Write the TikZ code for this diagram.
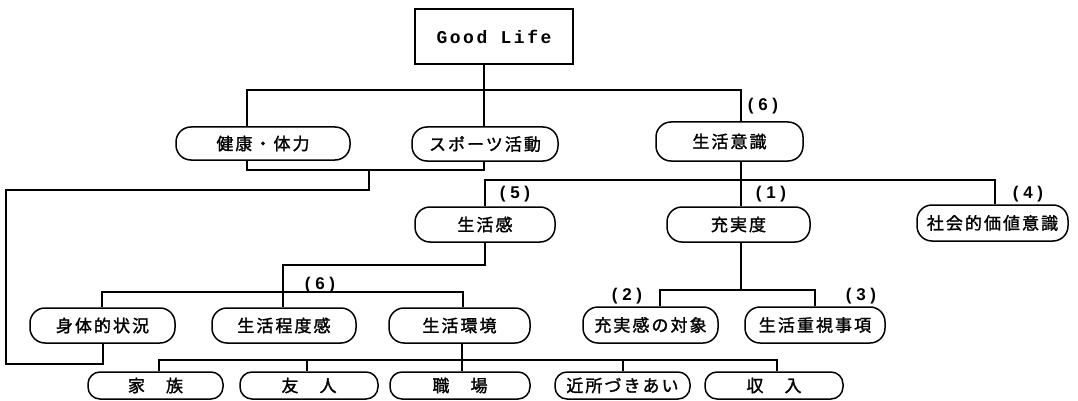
\documentclass[tikz,border=0pt]{standalone}
\usepackage{fontspec}
\newfontfamily\jp{Noto Sans CJK JP}[LetterSpace=12,FakeBold=1.5]
\newfontfamily\glfont{Liberation Mono}[LetterSpace=14]
\newfontfamily\numfont{Liberation Sans}
\tikzset{
  rbox/.style={draw, line width=1.5pt, rounded corners=15pt, inner sep=0pt, font=\jp\fontsize{17}{17}\selectfont},
  lowbox/.style={rbox, rounded corners=12pt},
  sqbox/.style={draw, line width=1.5pt, inner sep=0pt, font=\glfont\bfseries\fontsize{18}{18}\selectfont},
  conn/.style={line width=1.5pt},
  lbl/.style={inner sep=0pt, font=\numfont\bfseries\fontsize{17}{17}\selectfont}
}
\begin{document}
\begin{tikzpicture}[x=1pt,y=-1pt]
\useasboundingbox[fill=white] (0,0) rectangle (1078,401);
% nodes
\node[sqbox, minimum width=158pt, minimum height=55pt] (gl) at (494,36.5) {Good Life};
\node[rbox, minimum width=174pt, minimum height=33pt] (kenko) at (263,143.5) {健康・体力};
\node[rbox, minimum width=146pt, minimum height=34pt] (sports) at (485,144) {スポーツ活動};
\node[rbox, minimum width=147pt, minimum height=39pt] (ishiki) at (729.5,141.5) {生活意識};
\node[rbox, minimum width=140pt, minimum height=35pt] (kan) at (485,224.5) {生活感};
\node[rbox, minimum width=143pt, minimum height=35pt] (jujitsu) at (738.5,224.5) {充実度};
\node[rbox, minimum width=151pt, minimum height=36pt] (shakai) at (992.5,223) {社会的価値意識};
\node[rbox, minimum width=145pt, minimum height=35pt] (shintai) at (102.5,325.5) {身体的状況};
\node[rbox, minimum width=144pt, minimum height=35pt] (teido) at (284,325.5) {生活程度感};
\node[rbox, minimum width=141pt, minimum height=35pt] (kankyo) at (459.5,325.5) {生活環境};
\node[rbox, minimum width=135pt, minimum height=36pt] (taisho) at (650.5,325) {充実感の対象};
\node[rbox, minimum width=140pt, minimum height=36pt] (juushi) at (815,325) {生活重視事項};
\node[lowbox, minimum width=135pt, minimum height=27pt] (kazoku) at (155.5,385.5) {\raisebox{-3pt}{家　族}};
\node[lowbox, minimum width=138pt, minimum height=27pt] (yujin) at (309,385.5) {\raisebox{-3pt}{友　人}};
\node[lowbox, minimum width=140pt, minimum height=27pt] (shokuba) at (460,385.5) {\raisebox{-3pt}{職　場}};
\node[lowbox, minimum width=135pt, minimum height=27pt] (kinjo) at (622.5,385.5) {\raisebox{-3pt}{近所づきあい}};
\node[lowbox, minimum width=138pt, minimum height=27pt] (shunyu) at (774,385.5) {\raisebox{-3pt}{収　入}};
% labels
\node[lbl] (l6a) at (763,106) {( 6 )};
\node[lbl] (l5) at (515,194) {( 5 )};
\node[lbl] (l1) at (771,194) {( 1 )};
\node[lbl] (l4) at (1028,194) {( 4 )};
\node[lbl] (l6b) at (320,285) {( 6 )};
\node[lbl] (l2) at (627,296) {( 2 )};
\node[lbl] (l3) at (861,296) {( 3 )};
% junction coordinates
\coordinate (j0) at (484,90);
\coordinate (h1) at (247,90);
\coordinate (h2) at (741,90);
\coordinate (b1) at (247,170);
\coordinate (b2) at (484,170);
\coordinate (b3) at (369,170);
\coordinate (b4) at (369,190);
\coordinate (b5) at (6,190);
\coordinate (b6) at (6,364);
\coordinate (b7) at (103,364);
\coordinate (c0) at (485,180);
\coordinate (c1) at (741,180);
\coordinate (c2) at (995,180);
\coordinate (d1) at (485,265);
\coordinate (d2) at (283,265);
\coordinate (e1) at (102,292);
\coordinate (e2) at (463,292);
\coordinate (f0) at (741,290);
\coordinate (f1) at (660,290);
\coordinate (f2) at (815,290);
\coordinate (g0) at (462,360);
\coordinate (g1) at (159,360);
\coordinate (g2) at (777,360);
\coordinate (g3) at (307,360);
\coordinate (g4) at (623,360);
% connectors
\draw[conn] (gl.south -| j0) -- (sports.north -| j0);
\draw[conn] (kenko.north -| h1) -- (h1) -- (h2) -- (ishiki.north -| h2);
\draw[conn] (kenko.south -| b1) -- (b1) -- (b2) -- (sports.south -| b2);
\draw[conn] (b3) -- (b4) -- (b5) -- (b6) -- (b7) -- (shintai.south -| b7);
\draw[conn] (ishiki.south -| c1) -- (jujitsu.north -| c1);
\draw[conn] (kan.north -| c0) -- (c0) -- (c2) -- (shakai.north -| c2);
\draw[conn] (kan.south -| d1) -- (d1) -- (d2) -- (teido.north -| d2);
\draw[conn] (shintai.north -| e1) -- (e1) -- (e2) -- (kankyo.north -| e2);
\draw[conn] (jujitsu.south -| f0) -- (f0);
\draw[conn] (taisho.north -| f1) -- (f1) -- (f2) -- (juushi.north -| f2);
\draw[conn] (kankyo.south -| g0) -- (shokuba.north -| g0);
\draw[conn] (kazoku.north -| g1) -- (g1) -- (g2) -- (shunyu.north -| g2);
\draw[conn] (g3) -- (yujin.north -| g3);
\draw[conn] (g4) -- (kinjo.north -| g4);
\end{tikzpicture}
\end{document}
